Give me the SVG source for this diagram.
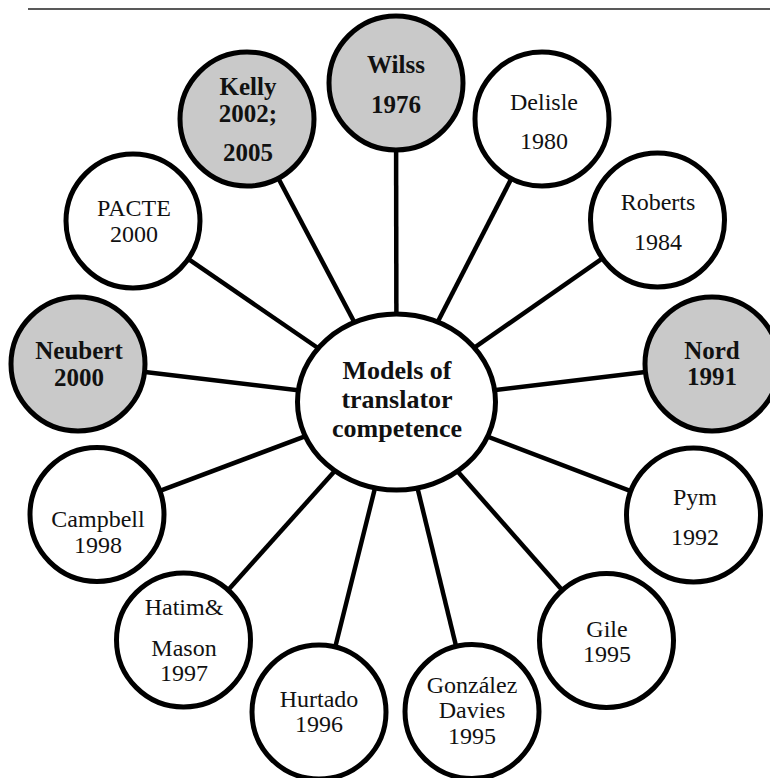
<svg xmlns="http://www.w3.org/2000/svg" width="770" height="778" viewBox="0 0 770 778">
<style>
.bg{fill:#ffffff}
.node{fill:#ffffff;stroke:#000;stroke-width:5}
.hl{fill:#c9c9c9;stroke:#000;stroke-width:5}
.conn{stroke:#000;stroke-width:4.5;fill:none}
text{fill:#111;text-anchor:middle}
.r{font-size:24px}
.b{font-size:25px;font-weight:bold}
.c{font-size:26px;font-weight:bold}
</style>
<rect class="bg" x="0" y="0" width="770" height="778"/>
<line x1="28" y1="9" x2="770" y2="9" stroke="#222" stroke-width="1.5"/>
<g id="connectors" class="conn">
<line x1="396.5" y1="402" x2="396" y2="83"/>
<line x1="396.5" y1="402" x2="247" y2="119"/>
<line x1="396.5" y1="402" x2="542" y2="119"/>
<line x1="396.5" y1="402" x2="133" y2="221"/>
<line x1="396.5" y1="402" x2="657.5" y2="220"/>
<line x1="396.5" y1="402" x2="78" y2="364"/>
<line x1="396.5" y1="402" x2="712" y2="364"/>
<line x1="396.5" y1="402" x2="97" y2="514.5"/>
<line x1="396.5" y1="402" x2="693.5" y2="515"/>
<line x1="396.5" y1="402" x2="183.5" y2="640"/>
<line x1="396.5" y1="402" x2="606.5" y2="640.5"/>
<line x1="396.5" y1="402" x2="319" y2="712"/>
<line x1="396.5" y1="402" x2="472" y2="711.5"/>
</g>
<g font-family="'Liberation Serif','Times New Roman','DejaVu Serif',serif">
<g id="center">
<ellipse class="node" cx="396.5" cy="402" rx="99" ry="88"/>
<text class="c" x="397" y="379">Models of</text>
<text class="c" x="397" y="408">translator</text>
<text class="c" x="397" y="437">competence</text>
</g>
<g id="wilss">
<circle class="hl" cx="396" cy="83" r="67"/>
<text class="b" x="396" y="73">Wilss</text>
<text class="b" x="396" y="113">1976</text>
</g>
<g id="kelly">
<circle class="hl" cx="247" cy="119" r="67"/>
<text class="b" x="248" y="95">Kelly</text>
<text class="b" x="248" y="122">2002;</text>
<text class="b" x="248" y="161">2005</text>
</g>
<g id="delisle">
<circle class="node" cx="542" cy="119" r="67"/>
<text class="r" x="544" y="110">Delisle</text>
<text class="r" x="544" y="149">1980</text>
</g>
<g id="pacte">
<circle class="node" cx="133" cy="221" r="67"/>
<text class="r" x="134" y="216">PACTE</text>
<text class="r" x="134" y="242">2000</text>
</g>
<g id="roberts">
<circle class="node" cx="657.5" cy="220" r="67"/>
<text class="r" x="658" y="210">Roberts</text>
<text class="r" x="658" y="250">1984</text>
</g>
<g id="neubert">
<circle class="hl" cx="78" cy="364" r="67"/>
<text class="b" x="79" y="359">Neubert</text>
<text class="b" x="79" y="386">2000</text>
</g>
<g id="nord">
<circle class="hl" cx="712" cy="364" r="67"/>
<text class="b" x="712" y="359">Nord</text>
<text class="b" x="712" y="385">1991</text>
</g>
<g id="campbell">
<circle class="node" cx="97" cy="514.5" r="67"/>
<text class="r" x="98" y="527">Campbell</text>
<text class="r" x="98" y="553">1998</text>
</g>
<g id="pym">
<circle class="node" cx="693.5" cy="515" r="67"/>
<text class="r" x="695" y="505">Pym</text>
<text class="r" x="695" y="545">1992</text>
</g>
<g id="hatim">
<circle class="node" cx="183.5" cy="640" r="67"/>
<text class="r" x="184" y="615">Hatim&amp;</text>
<text class="r" x="184" y="656">Mason</text>
<text class="r" x="184" y="681">1997</text>
</g>
<g id="gile">
<circle class="node" cx="606.5" cy="640.5" r="67"/>
<text class="r" x="607" y="637">Gile</text>
<text class="r" x="607" y="662">1995</text>
</g>
<g id="hurtado">
<circle class="node" cx="319" cy="712" r="67"/>
<text class="r" x="319" y="707">Hurtado</text>
<text class="r" x="319" y="732">1996</text>
</g>
<g id="gonzalez">
<circle class="node" cx="472" cy="711.5" r="67"/>
<text class="r" x="472" y="693">González</text>
<text class="r" x="472" y="718">Davies</text>
<text class="r" x="472" y="744">1995</text>
</g>
</g>
</svg>
